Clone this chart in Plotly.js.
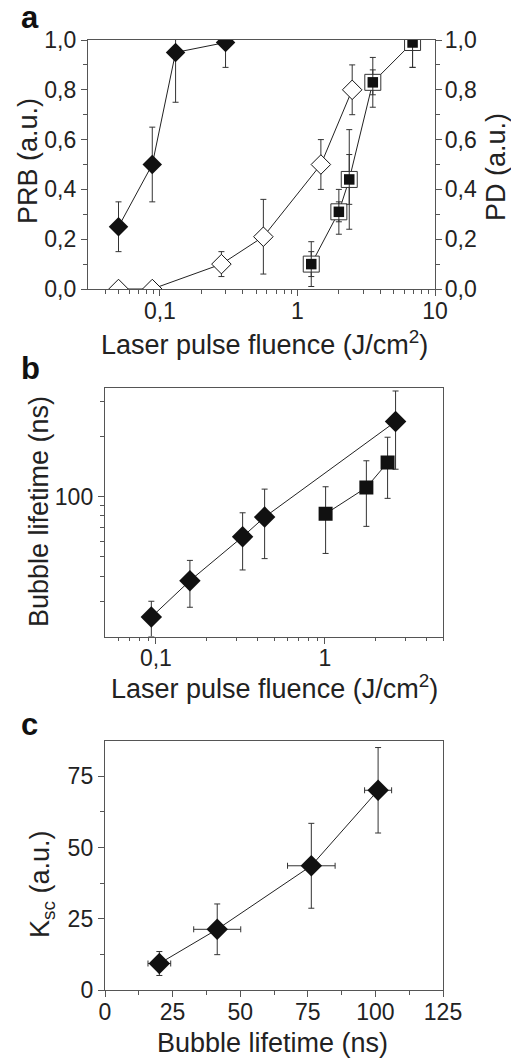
<!DOCTYPE html>
<html>
<head>
<meta charset="utf-8">
<script src="https://cdn.plot.ly/plotly-3.0.1.min.js"></script>
<style>html,body{margin:0;padding:0;background:#fff;}#chart{width:511px;height:1059px;}</style>
</head>
<body>
<div id="chart"></div>
<script>
// ---------- Panel a data ----------
const aPrbX = [0.05, 0.088, 0.13, 0.30];
const aPrbY = [0.25, 0.50, 0.95, 0.99];
const aPrbErr = [0.10, 0.15, 0.20, 0.10];

const aOpenX = [0.05, 0.088, 0.28, 0.565, 1.48, 2.5];
const aOpenY = [0.0, 0.0, 0.10, 0.21, 0.50, 0.80];
const aOpenErr = [0, 0, 0.05, 0.15, 0.10, 0.10];

const aSqX = [1.26, 2.0, 2.38, 3.53, 6.87];
const aSqY = [0.10, 0.31, 0.44, 0.83, 0.99];
const aSqOuterErr = [0.09, 0.09, 0.20, 0.10, 0.10];
const aSqInnerErr = [0.05, 0.04, 0.10, 0.05, 0.10];

const aXTickVals = [0.1, 1, 10];
const aXTickText = ['0,1', '1', '10'];
const aYTickVals = [0, 0.2, 0.4, 0.6, 0.8, 1.0];
const aYTickText = ['0,0', '0,2', '0,4', '0,6', '0,8', '1,0'];

// ---------- Panel b data ----------
const bDiaX = [0.094, 0.159, 0.326, 0.44, 2.62];
const bDiaY = [25, 38, 63, 79, 237];
const bDiaErr = [5, 10, 20, 30, 100];

const bSqX = [1.01, 1.76, 2.35];
const bSqY = [82, 111, 148];
const bSqErr = [30, 40, 50];

const bXTickVals = [0.1, 1];
const bXTickText = ['0,1', '1'];
const bYTickVals = [100];
const bYTickText = ['100'];

// ---------- Panel c data ----------
const cX = [20.1, 41.5, 76.3, 101];
const cY = [9.3, 21.3, 43.6, 70.1];
const cXErr = [4.2, 8.7, 8.8, 5.0];
const cYErr = [4.2, 8.9, 14.9, 15.0];

const cXTickVals = [0, 25, 50, 75, 100, 125];
const cYTickVals = [0, 25, 50, 75];

// ---------- helpers ----------
const W = 511, H = 1059;
const px = v => v / W;
const py = v => 1 - v / H;
const FONT = 'Liberation Sans, Arial, Helvetica, sans-serif';
const INK = '#111';
const LINE = '#222';
const AX = '#555';
const ERR = '#333';

function logMinor(lo, hi) {
  const out = [];
  for (let d = -3; d <= 3; d++) {
    for (let m = 2; m <= 9; m++) {
      const v = m * Math.pow(10, d);
      if (v > lo * 1.0001 && v < hi * 0.9999) out.push(+v.toPrecision(3));
    }
  }
  return out;
}

function errY(arr) {
  return {type: 'data', array: arr, symmetric: true, color: ERR, thickness: 1, width: 3};
}

const traces = [
  // Panel a
  {x: aOpenX, y: aOpenY, xaxis: 'x', yaxis: 'y', mode: 'lines+markers',
   line: {color: LINE, width: 1},
   marker: {symbol: 'diamond', size: 15, color: '#fff', line: {color: INK, width: 1}},
   error_y: errY(aOpenErr)},
  {x: aPrbX, y: aPrbY, xaxis: 'x', yaxis: 'y', mode: 'lines+markers',
   line: {color: LINE, width: 1},
   marker: {symbol: 'diamond', size: 15, color: INK},
   error_y: errY(aPrbErr)},
  {x: aSqX, y: aSqY, xaxis: 'x', yaxis: 'y2', mode: 'lines+markers',
   line: {color: LINE, width: 1},
   marker: {symbol: 'square', size: 16, color: '#fff', line: {color: '#333', width: 1}},
   error_y: errY(aSqOuterErr)},
  {x: aSqX, y: aSqY, xaxis: 'x', yaxis: 'y2', mode: 'markers',
   marker: {symbol: 'square', size: 10.5, color: INK},
   error_y: errY(aSqInnerErr)},
  // Panel b
  {x: bDiaX, y: bDiaY, xaxis: 'x2', yaxis: 'y3', mode: 'lines+markers',
   line: {color: LINE, width: 1},
   marker: {symbol: 'diamond', size: 16.5, color: INK},
   error_y: errY(bDiaErr)},
  {x: bSqX, y: bSqY, xaxis: 'x2', yaxis: 'y3', mode: 'lines+markers',
   line: {color: LINE, width: 1},
   marker: {symbol: 'square', size: 14, color: INK},
   error_y: errY(bSqErr)},
  // Panel c
  {x: cX, y: cY, xaxis: 'x3', yaxis: 'y4', mode: 'lines+markers',
   line: {color: LINE, width: 1},
   marker: {symbol: 'diamond', size: 16.5, color: INK},
   error_x: errY(cXErr), error_y: errY(cYErr)}
];

function axisBase(extra) {
  return Object.assign({
    showline: true, linecolor: AX, linewidth: 1.2,
    ticks: 'outside', ticklen: 6, tickwidth: 1, tickcolor: AX,
    showgrid: false, zeroline: false, automargin: false,
    tickfont: {family: FONT, size: 23, color: '#222'},
    tickmode: 'array'
  }, extra);
}
function minor(vals) {
  return {tickmode: 'array', tickvals: vals, ticks: 'outside', ticklen: 3.5, tickwidth: 1, tickcolor: AX, showgrid: false};
}

const aDomX = [px(88), px(435)];
const aDomY = [py(289), py(40)];
const bDomX = [px(105), px(443)];
const bDomY = [py(636.5), py(387.7)];
const cDomX = [px(105), px(443)];
const cDomY = [py(990), py(740.7)];

const layout = {
  width: W, height: H,
  margin: {l: 0, r: 0, t: 0, b: 0},
  paper_bgcolor: '#fff', plot_bgcolor: '#fff',
  showlegend: false,
  font: {family: FONT, color: '#222'},
  xaxis: axisBase({domain: aDomX, anchor: 'y', type: 'log', range: [Math.log10(0.03), 1],
    tickvals: aXTickVals, ticktext: aXTickText, mirror: true, ticklabelstandoff: -5,
    minor: minor(logMinor(0.03, 10))}),
  yaxis: axisBase({domain: aDomY, anchor: 'x', range: [0, 1],
    tickvals: aYTickVals, ticktext: aYTickText, minor: minor([0.1, 0.3, 0.5, 0.7, 0.9])}),
  yaxis2: axisBase({overlaying: 'y', side: 'right', anchor: 'x', range: [0, 1],
    tickvals: aYTickVals, ticktext: aYTickText, ticklabelstandoff: -2,
    minor: minor([0.1, 0.3, 0.5, 0.7, 0.9])}),
  xaxis2: axisBase({domain: bDomX, anchor: 'y3', type: 'log', range: [Math.log10(0.05), Math.log10(5)],
    tickvals: bXTickVals, ticktext: bXTickText, mirror: true, ticklabelstandoff: -5,
    minor: minor(logMinor(0.05, 5.0001).concat([5]))}),
  yaxis3: axisBase({domain: bDomY, anchor: 'x2', type: 'log', range: [Math.log10(20), Math.log10(350)],
    tickvals: bYTickVals, ticktext: bYTickText, mirror: true, minor: minor(logMinor(20, 350))}),
  xaxis3: axisBase({domain: cDomX, anchor: 'y4', range: [0, 125],
    tickvals: cXTickVals, mirror: true, ticklabelstandoff: -5,
    minor: minor([12.5, 37.5, 62.5, 87.5, 112.5])}),
  yaxis4: axisBase({domain: cDomY, anchor: 'x3', range: [0, 87.5],
    tickvals: cYTickVals, mirror: true, minor: minor([12.5, 37.5, 62.5])}),
  annotations: [
    {text: '<b>a</b>', x: px(19), y: py(18), xanchor: 'left', yanchor: 'middle', font: {size: 31, color: '#111'}},
    {text: '<b>b</b>', x: px(19), y: py(368), xanchor: 'left', yanchor: 'middle', font: {size: 31, color: '#111'}},
    {text: '<b>c</b>', x: px(19), y: py(724), xanchor: 'left', yanchor: 'middle', font: {size: 31, color: '#111'}},
    {text: 'Laser pulse fluence (J/cm<sup>2</sup>)', x: px(264), y: py(343), xanchor: 'center', yanchor: 'middle', font: {size: 27}},
    {text: 'PRB (a.u.)', x: px(28), y: py(161), textangle: -90, xanchor: 'center', yanchor: 'middle', font: {size: 27}},
    {text: 'PD (a.u.)', x: px(496), y: py(167), textangle: -90, xanchor: 'center', yanchor: 'middle', font: {size: 27}},
    {text: 'Laser pulse fluence (J/cm<sup>2</sup>)', x: px(274), y: py(687), xanchor: 'center', yanchor: 'middle', font: {size: 27}},
    {text: 'Bubble lifetime (ns)', x: px(39), y: py(512), textangle: -90, xanchor: 'center', yanchor: 'middle', font: {size: 27}},
    {text: 'Bubble lifetime (ns)', x: px(272), y: py(1043), xanchor: 'center', yanchor: 'middle', font: {size: 27}},
    {text: 'K<sub>sc</sub> (a.u.)', x: px(42), y: py(885), textangle: -90, xanchor: 'center', yanchor: 'middle', font: {size: 27}}
  ].map(a => Object.assign({xref: 'paper', yref: 'paper', showarrow: false}, a, {font: Object.assign({family: FONT, color: '#222'}, a.font)}))
};

Plotly.newPlot('chart', traces, layout, {staticPlot: true, displayModeBar: false});
</script>
</body>
</html>
